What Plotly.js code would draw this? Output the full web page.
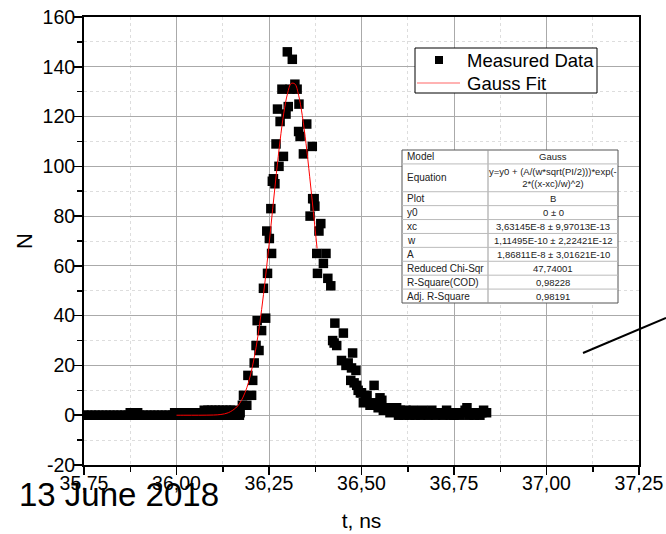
<!DOCTYPE html>
<html><head><meta charset="utf-8">
<script src="https://cdn.plot.ly/plotly-3.0.1.min.js"></script>
<style>html,body{margin:0;padding:0;background:#fff;} #chart{width:666px;height:534px;}</style>
</head><body><div id="chart"></div>
<script>
// Measured data (t in ns, N counts)
const tValues = [
 35.75,35.76,35.77,35.78,35.79,35.80,35.81,35.82,35.83,35.84,35.85,35.86,35.87,35.875,35.88,35.885,35.89,35.895,
 35.90,35.91,35.92,35.93,35.94,35.95,35.96,35.97,35.98,35.99,35.995,36.00,36.005,36.01,36.015,36.02,36.025,36.03,
 36.035,36.04,36.045,36.05,36.055,36.06,36.065,36.07,36.075,36.08,36.085,36.09,36.095,36.10,36.105,36.11,36.115,
 36.12,36.125,36.13,36.135,36.14,36.145,36.15,36.155,36.16,36.165,36.17,
 36.172,36.178,36.181,36.190,36.193,36.203,36.206,36.210,36.215,36.218,36.223,36.230,36.235,36.241,36.244,36.246,
 36.251,36.255,36.257,36.259,36.262,36.266,36.269,36.273,36.277,36.280,36.285,36.289,36.296,36.2995,36.302,36.307,
 36.313,36.320,36.326,36.330,36.331,36.334,36.343,36.352,36.361,36.367,36.368,36.372,36.374,36.379,36.381,36.385,
 36.390,36.397,36.404,36.409,36.417,
 36.422,36.426,36.428,36.433,36.446,36.451,36.458,36.464,36.471,36.473,36.476,36.480,36.485,36.487,36.491,36.497,
 36.500,36.505,36.510,36.515,36.523,36.528,36.534,36.540,36.545,36.550,36.555,36.559,36.565,36.570,36.577,36.585,36.595,
 36.600,36.605,36.610,36.615,36.620,36.625,36.630,36.635,36.640,36.645,36.650,36.660,36.665,36.670,36.680,36.685,
 36.690,36.700,36.705,36.710,36.720,36.725,36.730,36.740,36.745,36.750,36.760,36.765,36.770,36.780,36.785,36.790,
 36.800,36.805,36.810,36.820,36.825,36.830,36.838
];
const nValues = [
 0,0,0,0,0,0,0,0,0,0,0,0,0,1,0,1,0,1,
 0,0,0,0,0,0,0,0,0,0,1,0,1,0,1,0,1,0,
 1,0,1,0,1,0,1,0,2,0,2,0,2,0,2,0,2,
 0,2,0,2,0,2,0,2,0,1,0,
 1,4,8,4,16,8,14,21,28,38,26,34,51,39,74,57,
 71,83,65,94,95,93,109,123,100,118,131,104,121,146,124,131,
 143,133,131,114,125,112,105,117,80,108,87,87,84,65,57,74,
 77,61,65,55,52,
 30,29,37,28,22,33,20,21,14,19,25,13,18,12,10,9,
 9,5,6,8,4,5,12,4,3,7,6,2,3,2,1,3,3,
 0,2,1,0,2,1,0,1,2,0,1,0,2,1,0,1,
 2,0,1,1,0,1,2,0,1,0,1,0,1,2,3,0,
 1,0,1,0,1,2,1
];
// Gauss fit curve
const fitT = [36.00,36.02,36.04,36.06,36.08,36.10,36.12,36.14,36.16,36.17,36.18,36.19,36.20,36.21,36.22,36.23,36.24,
 36.25,36.26,36.27,36.28,36.29,36.30,36.31,36.32,36.33,36.34,36.35,36.36,36.37,36.38];
const fitN = [0,0,0,0,0.02,0.08,0.3,1.0,2.9,4.6,7.3,11.0,16.2,23.1,31.8,42.4,54.7,
 68.5,82.9,97.2,110.4,121.4,129.2,133.3,133.1,128.6,120.4,109.2,95.8,81.5,67.0];

const xTickVals = [35.75,36.00,36.25,36.50,36.75,37.00,37.25];
const xTickText = ['35,75','36,00','36,25','36,50','36,75','37,00','37,25'];
const yTickVals = [-20,0,20,40,60,80,100,120,140,160];
const yTickText = ['-20','0','20','40','60','80','100','120','140','160'];
const seriesNames = ['Measured Data','Gauss Fit'];

const tableLabels = ['Model','Equation','Plot','y0','xc','w','A','Reduced Chi-Sqr','R-Square(COD)','Adj. R-Square'];
const tableValues = ['Gauss','y=y0 + (A/(w*sqrt(PI/2)))*exp(-<br>2*((x-xc)/w)^2)','B','0 ± 0',
 '3,63145E-8 ± 9,97013E-13','1,11495E-10 ± 2,22421E-12','1,86811E-8 ± 3,01621E-10','47,74001','0,98228','0,98191'];
const tableRowUnits = [1,2,1,1,1,1,1,1,1,1];

const W=666,H=534,L=84,R=27,T=17,B=69;
const pw=W-L-R, ph=H-T-B;
const px=v=>(v-L)/pw, py=v=>(H-B-v)/ph;
const FONT='"Liberation Sans", Arial, sans-serif';

const shapes=[], annotations=[];
// table
const tL=402,tR=618,tT=150,tB=303,tC=488;
const unit=(tB-tT)/tableRowUnits.reduce((a,b)=>a+b,0);
shapes.push({type:'rect',xref:'paper',yref:'paper',x0:px(tL),x1:px(tR),y0:py(tB),y1:py(tT),
  fillcolor:'#ffffff',line:{color:'#555555',width:1},layer:'above'});
shapes.push({type:'line',xref:'paper',yref:'paper',x0:px(tC),x1:px(tC),y0:py(tB),y1:py(tT),line:{color:'#999999',width:1},layer:'above'});
let yy=tT;
tableLabels.forEach((lab,i)=>{
  const h=unit*tableRowUnits[i];
  const c=yy+h/2;
  if(i>0) shapes.push({type:'line',xref:'paper',yref:'paper',x0:px(tL),x1:px(tR),y0:py(yy),y1:py(yy),line:{color:'#bbbbbb',width:1},layer:'above'});
  annotations.push({xref:'paper',yref:'paper',x:px(tL+3),y:py(c),xanchor:'left',yanchor:'middle',text:lab,showarrow:false,
    font:{family:FONT,size:10,color:'#222'}});
  annotations.push({xref:'paper',yref:'paper',x:px((tC+tR)/2),y:py(c),xanchor:'center',yanchor:'middle',text:tableValues[i],showarrow:false,
    font:{family:FONT,size:9.5,color:'#222'},align:'center'});
  yy+=h;
});
// legend box (drawn to match the reference's compact legend)
const lgL=415,lgR=597,lgT=48,lgB=93,rowY=[60,83];
shapes.push({type:'rect',xref:'paper',yref:'paper',x0:px(lgL),x1:px(lgR),y0:py(lgB),y1:py(lgT),
  fillcolor:'#ffffff',line:{color:'#000',width:1},layer:'above'});
shapes.push({type:'rect',xref:'paper',yref:'paper',x0:px(435),x1:px(443),y0:py(rowY[0]+4),y1:py(rowY[0]-4),
  fillcolor:'#000',line:{color:'#000',width:0},layer:'above'});
shapes.push({type:'line',xref:'paper',yref:'paper',x0:px(417),x1:px(460),y0:py(rowY[1]),y1:py(rowY[1]),
  line:{color:'#ff6666',width:1.2},layer:'above'});
seriesNames.forEach((nm,i)=>annotations.push({xref:'paper',yref:'paper',x:px(465),y:py(rowY[i]),xanchor:'left',yanchor:'middle',
  text:nm,showarrow:false,font:{family:FONT,size:18.5,color:'#000'}}));
// pointer line
shapes.push({type:'line',xref:'paper',yref:'paper',x0:px(583),y0:py(353),x1:px(666),y1:py(318),line:{color:'#000',width:2},layer:'above'});
// date
annotations.push({xref:'paper',yref:'paper',x:px(119),y:py(494),xanchor:'center',yanchor:'middle',text:'13 June 2018',showarrow:false,
  font:{family:FONT,size:33,color:'#000'}});

const data=[
 {x:tValues,y:nValues,type:'scatter',mode:'markers',name:seriesNames[0],
  marker:{symbol:'square',size:9.5,color:'#000'}},
 {x:fitT,y:fitN,type:'scatter',mode:'lines',name:seriesNames[1],line:{color:'#ff0000',width:1,shape:'spline'}}
];
const axisCommon={showline:true,linecolor:'#000',linewidth:2,mirror:true,ticks:'outside',ticklen:8,tickwidth:1.5,tickcolor:'#000',
  showgrid:true,gridcolor:'#aaaaaa',gridwidth:1,zeroline:false,tickfont:{family:FONT,size:19.5,color:'#000'}};
const layout={
 width:W,height:H,margin:{l:L,r:R,t:T,b:B,pad:0},paper_bgcolor:'#fff',plot_bgcolor:'#fff',
 showlegend:false,
 xaxis:Object.assign({},axisCommon,{range:[35.75,37.25],tickmode:'array',tickvals:xTickVals,ticktext:xTickText,ticklabelstandoff:-8,
   minor:{tick0:35.75,dtick:0.125,ticks:'outside',ticklen:5,tickcolor:'#000',showgrid:true,gridcolor:'#dddddd',griddash:'dot'},
   title:{text:'t, ns',font:{family:FONT,size:21,color:'#000'},standoff:20}}),
 yaxis:Object.assign({},axisCommon,{range:[-20,160],tickmode:'array',tickvals:yTickVals,ticktext:yTickText,ticklabelstandoff:-5,
   minor:{tick0:-20,dtick:10,ticks:'outside',ticklen:5,tickcolor:'#000',showgrid:true,gridcolor:'#dddddd',griddash:'dot'},
   title:{text:'N',font:{family:FONT,size:22,color:'#000'},standoff:4}}),
 shapes:shapes,annotations:annotations
};
Plotly.newPlot('chart',data,layout,{displayModeBar:false,staticPlot:true});
</script></body></html>
